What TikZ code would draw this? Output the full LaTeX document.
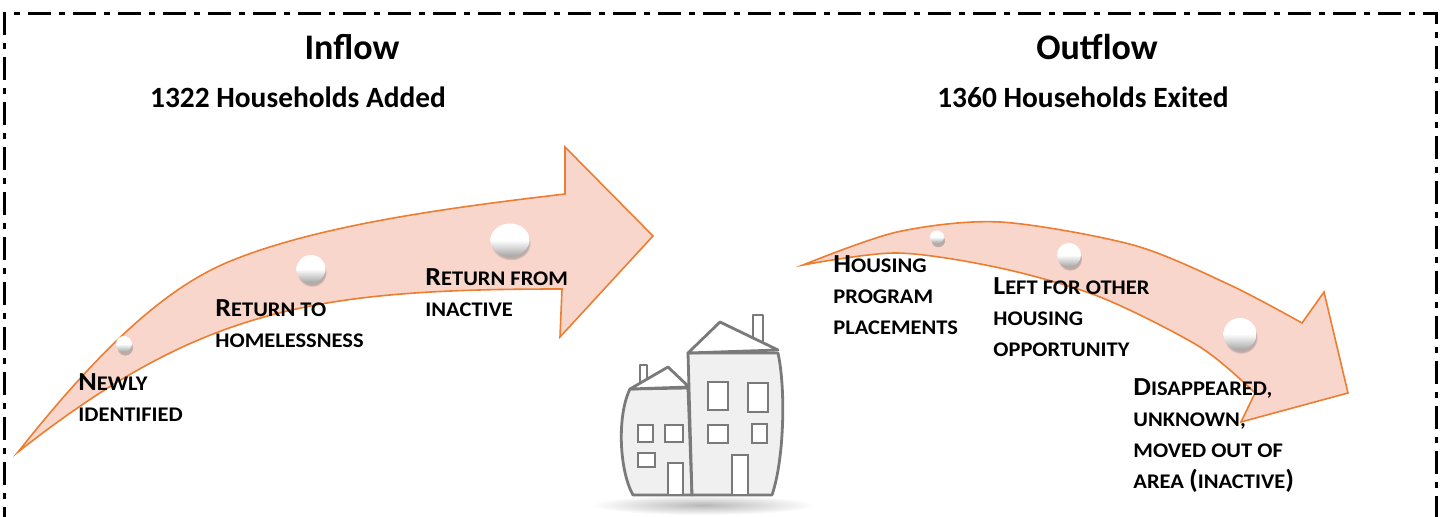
\documentclass[tikz,border=0pt]{standalone}
\usepackage{fontspec}
\setmainfont{Carlito}
\newfontfamily\labfont{Carlito}[FakeStretch=1.08]
\usepackage{tikz}
\usetikzlibrary{calc,shapes.geometric,shadows,positioning}
\definecolor{bandfill}{RGB}{248,214,203}
\definecolor{bandline}{RGB}{237,125,49}
\definecolor{housegray}{RGB}{122,122,122}
\newcommand\capfirst[1]{{\fontsize{13pt}{15.5pt}\selectfont #1}}
\tikzset{
	band/.style={fill=bandfill, draw=bandline, line width=0.8pt, line join=miter},
	ball/.style={ellipse, inner sep=0pt, top color=white, bottom color=black!35, middle color=white,
		circular drop shadow={shadow xshift=0.5pt, shadow yshift=-1.8pt, opacity=0.5, shadow scale=1.02}},
	flowtitle/.style={font=\fontsize{18pt}{20pt}\selectfont\bfseries, anchor=base, inner sep=0pt},
	flowcount/.style={font=\fontsize{14.7pt}{17pt}\selectfont\bfseries, anchor=base, inner sep=0pt},
	lbl/.style={font=\labfont\fontsize{10.4pt}{15.5pt}\selectfont\bfseries, align=left, anchor=north west, inner sep=0pt},
	house/.style={draw=housegray, line width=1.4pt, line join=round, fill=black!6},
	pane/.style={draw=housegray, line width=1.2pt, fill=white},
	frame/.style={line width=1.5pt, dash pattern=on 11.5pt off 4pt on 3pt off 4pt}
}

\begin{document}
\begin{tikzpicture}[x=0.5pt, y=-0.5pt]
			%%%%% START %%%%%
			\useasboundingbox (0,0) rectangle (1447,517);
			
			\draw[frame] (4,530) -- (4,14) -- (1436,14) -- (1436,530);
			
			% inflow arrow
			\filldraw[band] (18,452) .. controls (110,336) and (173,284) .. (233,260)
				.. controls (323,224) and (455,207) .. (565,194)
				-- (565,147) -- (653,236) -- (560,337) -- (562,289)
				.. controls (312,289) and (200,309) .. (18,452) -- cycle;
			
			% outflow arrow
			\filldraw[band] plot[smooth] coordinates {(803,265) (897,232) (1000,222) (1133,245) (1230,285) (1302,323)}
				-- (1324,292) -- (1348,393) -- (1241,422)
				-- plot[smooth] coordinates {(1255,393) (1200,347) (1100,297) (1000,268) (897,253) (803,265)} -- cycle;
			
			% houses
			\shade[inner color=black!28, outer color=white] (703,505) ellipse [x radius=112, y radius=10];
			\draw[house] (630,389) .. controls (617,415) and (619,470) .. (633,495) -- (692,495) -- (688,388) -- cycle;
			\draw[house, fill=white] (640,383) -- (640,365) -- (647,365) -- (647,379);
			\draw[house, fill=white] (630,389) -- (668,367) -- (689,387) -- cycle;
			\draw[house] (688,353) -- (692,495) -- (772,495) .. controls (784,460) and (786,390) .. (778,353) -- cycle;
			\draw[house, fill=white] (753,338) -- (753,315) -- (763,315) -- (763,343);
			\draw[house, fill=white] (688,353) -- (720,322) -- (778,350) -- cycle;
			\foreach \a/\b/\c/\d in {638/425/653/442, 665/425/683/442, 638/453/655/467, 668/463/683/495,
				708/382/728/410, 748/383/768/412, 708/425/728/443, 752/424/767/443, 732/455/748/495}
				\draw[pane] (\a,\b) rectangle (\c,\d);
			
			% stage dots
			\node[ball, minimum width=8pt, minimum height=8pt] (dotnew) at (124,344) {};
			\node[ball, minimum width=14.5pt, minimum height=14pt] (dotreturn) at (311,269) {};
			\node[ball, minimum width=19.5pt, minimum height=16.5pt] (dotinactive) at (510,240) {};
			\node[ball, minimum width=7pt, minimum height=6.5pt] (dotplaced) at (937,237) {};
			\node[ball, minimum width=12pt, minimum height=12pt] (dotother) at (1069,255) {};
			\node[ball, minimum width=16.5pt, minimum height=16pt] (dotgone) at (1240,334) {};
			
			% stage labels
			\node[lbl] (newly) at (78,373) {\capfirst{N}EWLY\\IDENTIFIED};
			\node[lbl] (rethome) at (215,299) {\capfirst{R}ETURN TO\\HOMELESSNESS};
			\node[lbl] (retinact) at (425,268) {\capfirst{R}ETURN FROM\\INACTIVE};
			\node[lbl] (placed) at (833,255) {\capfirst{H}OUSING\\PROGRAM\\PLACEMENTS};
			\node[lbl] (leftother) at (993,277) {\capfirst{L}EFT FOR OTHER\\HOUSING\\OPPORTUNITY};
			\node[lbl] (gone) at (1133,378) {\capfirst{D}ISAPPEARED,\\UNKNOWN,\\MOVED OUT OF\\AREA \capfirst{(}INACTIVE\capfirst{)}};
			
			% headings
			\node[flowtitle] (inflow) at (352,60) {Inflow};
			\node[flowcount] (added) at (298,108) {1322 Households Added};
			\node[flowtitle] (outflow) at (1097,60) {Outflow};
			\node[flowcount] (exited) at (1083,108) {1360 Households Exited};
			%%%%% END %%%%%
\end{tikzpicture}
\end{document}
